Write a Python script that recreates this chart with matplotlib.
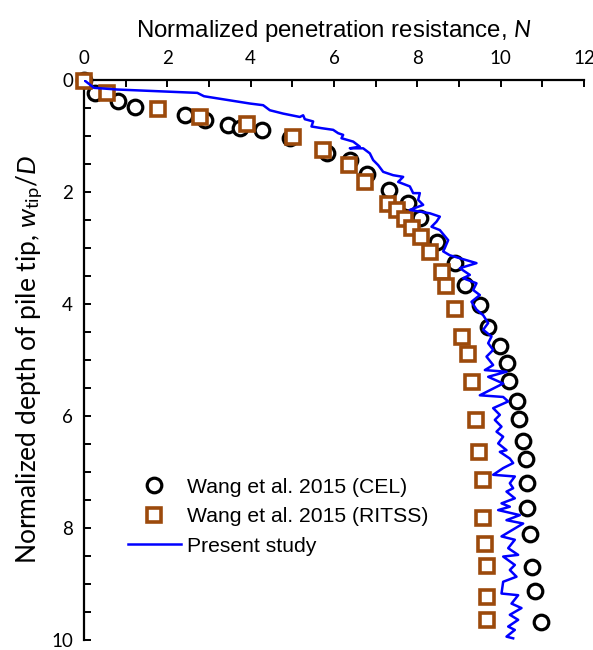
import matplotlib
matplotlib.use("Agg")
import matplotlib.pyplot as plt
from matplotlib.ticker import MultipleLocator, FuncFormatter

plt.rcParams['mathtext.fontset'] = 'custom'
plt.rcParams['mathtext.rm'] = 'Lato'
plt.rcParams['mathtext.it'] = 'Lato:italic'

# Wang et al. 2015 (CEL)
cel_N = [0, 0.26, 0.82, 1.22, 2.42, 2.9, 3.46, 3.74, 4.26, 4.94, 5.82, 6.38, 6.78,
         7.32, 7.78, 8.06, 8.46, 8.9, 9.14, 9.5, 9.7, 9.98, 10.14, 10.2, 10.38,
         10.44, 10.53, 10.6, 10.62, 10.62, 10.7, 10.74, 10.82, 10.97]
cel_w = [0, 0.24, 0.37, 0.48, 0.625, 0.71, 0.80, 0.86, 0.89, 1.04, 1.31, 1.42, 1.67,
         1.96, 2.2, 2.47, 2.89, 3.27, 3.66, 4.02, 4.41, 4.75, 5.06, 5.37, 5.73,
         6.06, 6.44, 6.77, 7.2, 7.65, 8.1, 8.7, 9.12, 9.67]

# Wang et al. 2015 (RITSS)
ritss_N = [0, 0.54, 1.78, 2.78, 3.9, 5.02, 5.74, 6.36, 6.74, 7.3, 7.5, 7.7, 7.86,
           8.1, 8.3, 8.6, 8.7, 8.9, 9.08, 9.22, 9.3, 9.41, 9.49, 9.58, 9.57,
           9.62, 9.66, 9.68, 9.68]
ritss_w = [0.02, 0.24, 0.52, 0.66, 0.79, 1.01, 1.25, 1.52, 1.83, 2.21, 2.32, 2.48, 2.65,
           2.81, 3.07, 3.42, 3.67, 4.09, 4.59, 4.9, 5.4, 6.07, 6.64, 7.14, 7.82,
           8.29, 8.68, 9.23, 9.64]

# Present study
ps_N = [0, 0.24, 0.8, 2.72, 2.88, 3.98, 4.3, 4.46, 4.78, 5.18, 5.26, 5.30, 5.50,
        5.46, 5.70, 5.98, 6.10, 6.22, 6.18, 6.46, 6.62, 6.38, 6.70, 6.86, 6.94,
        7.06, 7.18, 7.42, 7.66, 7.54, 7.82, 7.90, 8.06, 8.02, 8.14, 7.82, 8.30,
        8.54, 8.46, 8.34, 8.54, 8.74, 8.66, 8.62, 8.78, 9.42, 9.02, 9.26, 9.10,
        9.42, 9.34, 9.50, 9.30, 9.42, 9.58, 9.70, 9.58, 9.78, 9.70, 9.82, 9.66,
        9.82, 9.62, 10.14, 9.70, 10.06, 9.50, 10.06, 10.18, 9.82, 9.98, 9.86,
        10.02, 9.90, 10.06, 9.94, 10.14, 9.98, 10.22, 10.30, 10.06, 9.82, 10.34,
        10.22, 10.30, 10.14, 10.34, 10.02, 10.22, 9.94, 10.46, 10.14, 10.54,
        10.02, 10.34, 10.18, 10.42, 10.06, 10.34, 10.22, 10.38, 10.06, 10.02,
        10.42, 10.26, 10.50, 10.22, 10.42, 10.18, 10.34, 10.14, 10.30]
ps_w = [0, 0.14, 0.17, 0.23, 0.29, 0.42, 0.45, 0.54, 0.60, 0.66, 0.63, 0.70, 0.74,
        0.83, 0.86, 0.89, 0.95, 0.98, 1.04, 1.10, 1.19, 1.22, 1.22, 1.31, 1.43,
        1.52, 1.64, 1.70, 1.73, 1.82, 1.90, 2.02, 2.02, 2.14, 2.23, 2.32, 2.38,
        2.44, 2.53, 2.62, 2.68, 2.86, 3.00, 3.06, 3.13, 3.27, 3.36, 3.48, 3.54,
        3.63, 3.75, 3.84, 3.96, 4.10, 4.20, 4.34, 4.46, 4.58, 4.70, 4.82, 4.94,
        5.09, 5.18, 5.21, 5.30, 5.42, 5.63, 5.66, 5.74, 5.86, 5.98, 6.07,
        6.19, 6.28, 6.37, 6.49, 6.61, 6.64, 6.76, 6.84, 6.93, 7.05, 7.08,
        7.20, 7.29, 7.35, 7.47, 7.56, 7.62, 7.68, 7.77, 7.86, 7.92,
        8.15, 8.21, 8.36, 8.48, 8.51, 8.66, 8.75, 8.87, 8.96, 9.17,
        9.20, 9.35, 9.43, 9.55, 9.64, 9.76, 9.82, 9.94, 9.97]

fig = plt.figure(figsize=(5.93, 6.5), dpi=100)
ax = fig.add_axes([84/593, 1 - 640/650, 500/593, 560/650])

brown = '#9C4A0C'
ax.plot(cel_N, cel_w, linestyle='none', marker='o', markersize=10.5,
        markerfacecolor='white', markeredgecolor='black', markeredgewidth=2.3,
        label='Wang et al. 2015 (CEL)', clip_on=False, zorder=3)
ax.plot(ritss_N, ritss_w, linestyle='none', marker='s', markersize=10.5,
        markerfacecolor='white', markeredgecolor=brown, markeredgewidth=2.6,
        label='Wang et al. 2015 (RITSS)', clip_on=False, zorder=4)
ax.plot(ps_N, ps_w, color='#0000FF', linewidth=1.8, label='Present study',
        zorder=5)

ax.set_xlim(0, 12)
ax.set_ylim(10, 0)

ax.spines['bottom'].set_visible(False)
ax.spines['right'].set_visible(False)
ax.spines['top'].set_linewidth(1.6)
ax.spines['left'].set_linewidth(1.6)

ax.xaxis.set_ticks_position('top')
ax.xaxis.set_label_position('top')
ax.xaxis.set_major_locator(MultipleLocator(1))
ax.yaxis.set_major_locator(MultipleLocator(0.5))
ax.xaxis.set_major_formatter(FuncFormatter(lambda v, p: f"{int(round(v))}" if round(v) % 2 == 0 else ""))
ax.yaxis.set_major_formatter(FuncFormatter(lambda v, p: f"{int(round(v))}" if abs(v - round(v)) < 1e-6 and round(v) % 2 == 0 else ""))

tick_font = 'Lato'
ax.tick_params(axis='x', direction='in', length=5, width=1.4, pad=9,
               labelsize=13.5)
ax.tick_params(axis='y', direction='in', length=5, width=1.4, pad=8,
               labelsize=13.5)
for lab in ax.get_xticklabels() + ax.get_yticklabels():
    lab.set_fontfamily(tick_font)

ax.set_xlabel('Normalized penetration resistance, $N$', fontsize=17.3,
              fontfamily='Liberation Sans', labelpad=10)
ax.set_ylabel(r'Normalized depth of pile tip, $w_{\mathrm{tip}}/D$', fontsize=19,
              fontfamily='Lato', labelpad=4)

leg = ax.legend(loc='center left', bbox_to_anchor=(0.088, 0.22), frameon=False,
                prop={'family': 'Liberation Sans', 'size': 15.2},
                handlelength=2.5, handletextpad=0.3, labelspacing=0.5,
                borderpad=0, borderaxespad=0)

fig.savefig('out.png', dpi=100)
